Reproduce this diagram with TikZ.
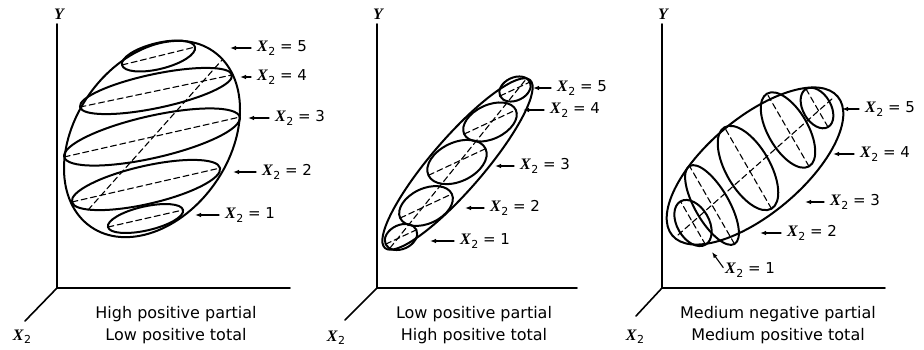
\documentclass[tikz,border=0pt]{standalone}
\usepackage{fontspec}
\setmainfont{DejaVu Sans}
\newfontfamily\varfont{Liberation Serif}
\usetikzlibrary{arrows.meta}

\newcommand{\xvar}{{\fontsize{16}{16}\varfont\bfseries\itshape X}\kern0.5pt\raisebox{-3.5pt}{\fontsize{11}{11}\selectfont 2}}
\newcommand{\xtag}[1]{\xvar\ =\ #1}

\begin{document}
\begin{tikzpicture}[x=1pt,y=-1pt,line cap=round,line join=round,
  rim/.style={line width=2pt},
  guide/.style={line width=1.1pt,dash pattern=on 6pt off 3.5pt},
  axisline/.style={line width=1.6pt},
  tag/.style={inner sep=0pt,anchor=west,font=\fontsize{15}{15}\selectfont},
  tagarrow/.style={line width=1.1pt,-{Latex[length=6pt,width=4.5pt]},shorten <=6pt},
  varlabel/.style={inner sep=0pt,font=\fontsize{16}{16}\varfont\bfseries\itshape},
  caption/.style={align=center,inner sep=0pt,font=\fontsize{16}{22}\selectfont}]
\useasboundingbox (0,0) rectangle (924,349);

% axes
\foreach \p/\ox/\hx/\zx/\zy in {1/57/290/25/321, 2/377/577/345/320, 3/662/885/636/316} {
  \coordinate (o\p) at (\ox,288);
  \coordinate (top\p) at (\ox,24);
  \coordinate (h\p) at (\hx,288);
  \coordinate (z\p) at (\zx,\zy);
  \draw[axisline] (top\p) -- (o\p) -- (h\p);
  \draw[axisline] (o\p) -- (z\p);
}
\node[varlabel] (ylab1) at (59,14) {Y};
\node[varlabel] (ylab2) at (378,14) {Y};
\node[varlabel] (ylab3) at (663,14) {Y};
\node[inner sep=0pt] (xlab1) at (22,337) {\xvar};
\node[inner sep=0pt] (xlab2) at (336,338) {\xvar};
\node[inner sep=0pt] (xlab3) at (635,337) {\xvar};

% panel 1
\draw[rim,rotate around={55:(152,139)}] (152,139) ellipse [x radius=107, y radius=77];
\foreach \cx/\cy/\ra/\rb/\ang in {145.5/218.5/38.5/12/12.8, 146/185/76/19/12.9,
    152/137/90/21/12.8, 156/91/77.7/17/11.9, 158.5/56/37.6/13/13.8} {
  \draw[rim,rotate around={\ang:(\cx,\cy)}] (\cx,\cy) ellipse [x radius=\ra, y radius=\rb];
  \draw[guide,rotate around={\ang:(\cx,\cy)}] ({\cx-\ra},\cy) -- ({\cx+\ra},\cy);
}
\draw[guide] (88,210) -- (222,60);

% panel 2
\draw[rim,rotate around={49.2:(457.5,164)}] (457.5,164) ellipse [x radius=111, y radius=26];
\foreach \cx/\cy/\ra/\rb in {401/237/17/12, 426/206/28.5/17.5, 457/162/31.5/19.5,
    490/122/28.5/17, 515/89/16.5/11.5} {
  \draw[rim,rotate around={25:(\cx,\cy)}] (\cx,\cy) ellipse [x radius=\ra, y radius=\rb];
  \draw[guide,rotate around={25:(\cx,\cy)}] ({\cx-\ra},\cy) -- ({\cx+\ra},\cy);
}
\draw[guide] (390,248) -- (527,78);

% panel 3
\draw[rim,rotate around={40:(755,166)}] (755,166) ellipse [x radius=108, y radius=48];
\foreach \cx/\cy/\ra/\rb in {693/223/25/16, 712/205/45/17, 748/168/47/22,
    788/130/42/20, 817/108/22/14} {
  \draw[rim,rotate around={120:(\cx,\cy)}] (\cx,\cy) ellipse [x radius=\ra, y radius=\rb];
  \draw[guide,rotate around={120:(\cx,\cy)}] ({\cx-\ra},\cy) -- ({\cx+\ra},\cy);
}
\draw[guide] (678,235) -- (833,98);

% value tags
\foreach \k/\tx/\ty/\gap in {5/230/48/27, 4/240/77/17, 3/248/118/27, 2/233/172/29, 1/195/215/30} {
  \coordinate (t1\k) at (\tx,\ty);
  \node[tag] (l1\k) at ([xshift=\gap]t1\k) {\xtag{\k}};
  \draw[tagarrow] (l1\k) -- (t1\k);
}
\foreach \k/\tx/\ty/\gap in {5/533/88/24, 4/523/110/27, 3/495/166/25, 2/465/208/25, 1/430/241/30} {
  \coordinate (t2\k) at (\tx,\ty);
  \node[tag] (l2\k) at ([xshift=\gap]t2\k) {\xtag{\k}};
  \draw[tagarrow] (l2\k) -- (t2\k);
}
\foreach \k/\tx/\ty/\gap in {5/842/109/23, 4/833/154/27, 3/805/202/25, 2/760/233/27} {
  \coordinate (t3\k) at (\tx,\ty);
  \node[tag] (l3\k) at ([xshift=\gap]t3\k) {\xtag{\k}};
  \draw[tagarrow] (l3\k) -- (t3\k);
}
\coordinate (t31) at (712,252);
\node[tag] (l31) at (725,270) {\xtag{1}};
\draw[tagarrow,shorten <=3pt] (l31.west) -- (t31);

\node[caption] (cap1) at (176,325) {High positive partial\\Low positive total};
\node[caption] (cap2) at (474,325) {Low positive partial\\High positive total};
\node[caption] (cap3) at (778,325) {Medium negative partial\\Medium positive total};
\end{tikzpicture}
\end{document}
